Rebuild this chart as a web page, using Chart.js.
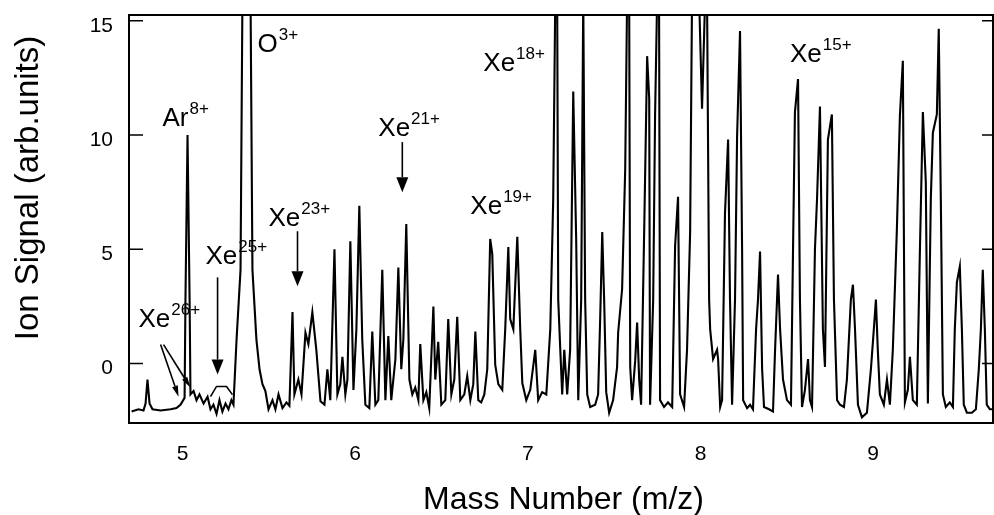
<!DOCTYPE html>
<html>
<head>
<meta charset="utf-8">
<script src="https://cdn.jsdelivr.net/npm/chart.js@4.4.1/dist/chart.umd.min.js"></script>
<style>
  html, body { margin: 0; padding: 0; background: #fff; }
</style>
</head>
<body>
<canvas id="spec" width="994" height="515"></canvas>
<script>
// trace of the spectrum (mass number, ion signal)
const massX = [
  4.705, 4.745, 4.774, 4.786, 4.797, 4.809, 4.826, 4.873, 4.931, 4.965, 4.988,
  5.012, 5.017, 5.029, 5.041, 5.046, 5.064, 5.081, 5.098, 5.122, 5.145,
  5.162, 5.179, 5.197, 5.214, 5.231, 5.249, 5.266, 5.283, 5.295, 5.313,
  5.336, 5.347, 5.394, 5.405, 5.428, 5.446, 5.463, 5.480, 5.498, 5.521,
  5.538, 5.556, 5.579, 5.602, 5.619, 5.637, 5.648, 5.671, 5.689, 5.712,
  5.729, 5.752, 5.775, 5.799, 5.822, 5.839, 5.856, 5.880, 5.897, 5.914,
  5.926, 5.943, 5.955, 5.972, 5.990, 6.007, 6.024, 6.041, 6.059, 6.082,
  6.099, 6.117, 6.134, 6.157, 6.175, 6.192, 6.209, 6.233, 6.250, 6.267,
  6.279, 6.296, 6.314, 6.331, 6.348, 6.366, 6.377, 6.395, 6.412, 6.429,
  6.453, 6.464, 6.481, 6.499, 6.522, 6.539, 6.557, 6.574, 6.591, 6.609,
  6.632, 6.649, 6.667, 6.684, 6.696, 6.713, 6.730, 6.748, 6.765, 6.782,
  6.794, 6.811, 6.829, 6.852, 6.869, 6.887, 6.898, 6.916, 6.939, 6.956,
  6.968, 6.991, 7.014, 7.043, 7.060, 7.083, 7.107, 7.130, 7.147, 7.159,
  7.170, 7.176, 7.188, 7.199, 7.211, 7.228, 7.245, 7.263, 7.280, 7.292,
  7.309, 7.321, 7.332, 7.344, 7.361, 7.390, 7.407, 7.419, 7.431, 7.442,
  7.454, 7.471, 7.494, 7.517, 7.523, 7.546, 7.564, 7.575, 7.587, 7.593,
  7.604, 7.622, 7.633, 7.645, 7.656, 7.674, 7.691, 7.703, 7.708, 7.726,
  7.737, 7.749, 7.760, 7.766, 7.789, 7.812, 7.836, 7.853, 7.870, 7.882,
  7.905, 7.922, 7.940, 7.951, 7.992, 8.009, 8.027, 8.038, 8.050, 8.056,
  8.073, 8.096, 8.102, 8.114, 8.125, 8.142, 8.160, 8.171, 8.183, 8.200,
  8.212, 8.229, 8.241, 8.247, 8.270, 8.287, 8.304, 8.322, 8.333, 8.345,
  8.357, 8.368, 8.397, 8.420, 8.432, 8.449, 8.461, 8.478, 8.501, 8.524,
  8.536, 8.547, 8.565, 8.576, 8.588, 8.605, 8.623, 8.634, 8.646, 8.663,
  8.675, 8.692, 8.709, 8.721, 8.738, 8.761, 8.773, 8.791, 8.808, 8.831,
  8.848, 8.871, 8.883, 8.895, 8.912, 8.935, 8.964, 8.987, 9.004, 9.016,
  9.027, 9.039, 9.062, 9.080, 9.097, 9.114, 9.137, 9.155, 9.172, 9.184,
  9.201, 9.213, 9.230, 9.253, 9.271, 9.288, 9.305, 9.317, 9.334, 9.346,
  9.369, 9.380, 9.392, 9.404, 9.421, 9.444, 9.462, 9.473, 9.485, 9.502,
  9.514, 9.525, 9.543, 9.572, 9.595, 9.612, 9.624, 9.635, 9.647, 9.658,
  9.676, 9.699
];
const signalY = [
  -2.1, -2.0, -2.05, -1.75, -0.7, -1.75, -2.0, -2.05, -2.0, -1.95, -1.8,
  -1.5, 2.8, 10.0, 2.8, -1.35, -1.2, -1.6, -1.35, -1.75, -1.45,
  -2.0, -1.8, -2.2, -1.6, -2.1, -1.75, -2.0, -1.6, -1.8, 1.05,
  4.1, 16, 16, 4.1, 1.05, -0.25, -0.9, -1.2, -2.0, -1.6,
  -2.0, -1.35, -1.95, -1.7, -1.85, 2.25, -1.35, -0.7, -1.35, 1.35,
  0.85, 2.25, 0.6, -1.65, -1.8, -0.25, -1.6, 5.0, -1.35, -0.9,
  0.3, -1.35, -0.7, 5.35, -1.15, 1.5, 6.9, 1.05, -1.8, -1.95,
  1.4, -1.8, -1.6, 4.1, -1.6, 1.2, -1.6, 0.2, 4.2, -0.25,
  1.05, 6.1, -0.7, -1.35, -1.05, -1.6, 0.85, -1.6, -1.25, -1.95,
  2.5, -0.7, 0.95, -1.8, -1.6, 1.95, -1.35, -0.7, 2.05, -1.6,
  -1.35, -0.55, -1.6, -0.9, 1.4, -1.6, -1.7, -1.35, -0.25, 5.45,
  4.8, -0.05, -0.9, -1.15, 1.5, 5.1, 1.95, 1.5, 5.55, 1.5,
  -0.85, -1.6, -1.15, 0.6, -1.6, -1.25, -1.35, 1.5, 7.2, 16,
  16, 2.8, 0.6, -1.35, 0.6, -1.35, 0.6, 11.9, 5.45, -1.6,
  2.8, 16, 2.8, -1.35, -1.9, -1.8, -1.35, 1.95, 5.75, 2.8,
  -1.25, -2.15, -1.6, -0.15, 1.35, 3.25, 8.5, 16, 16, -0.15,
  -1.6, 0.15, 1.8, -0.7, -1.8, 5.85, 13.45, 11.6, -1.8, 2.8,
  10.85, 16, 16, -1.6, -1.9, -1.7, -1.9, 5.15, 7.3, -1.35,
  -1.9, 0.6, 5.75, 16, 16, 11.15, 16, 16, 2.8, 1.5,
  0.2, 0.6, 0.2, -1.9, -1.6, 6.6, 9.8, 2.8, -1.8, 2.8,
  9.95, 14.55, 5.0, -1.6, -1.95, -1.8, -2.0, 1.5, 2.8, 4.9,
  -0.25, -1.9, -2.0, -2.1, 0.6, 3.9, 1.5, -0.7, -1.6, -1.8,
  5.0, 11.0, 12.45, 2.8, -1.9, -1.15, 0.2, -1.6, -1.9, 5.0,
  7.2, 11.25, 1.5, -0.15, 9.8, 10.9, 2.8, -1.6, -1.8, -1.9,
  -0.7, 2.8, 3.45, 1.5, -1.8, -2.35, -2.15, -0.25, 1.5, 2.8,
  0.6, -1.35, -1.8, -0.7, -1.8, 0.6, 5.75, 10.85, 13.25, -1.7,
  -1.15, 0.3, -1.6, -1.8, 5.0, 11.0, 7.95, -1.75, 7.2, 10.1,
  10.9, 14.65, 7.2, -1.35, -1.9, -1.7, -1.9, 1.5, 3.55, 4.25,
  1.5, -1.8, -2.15, -2.15, -2.0, -0.25, 1.5, 4.1, 1.5, -1.8,
  -2.0, -2.0
];
const massTicks = [5, 6, 7, 8, 9];
const signalTicks = [0, 5, 10, 15];

// ion labels (text anchored at mass / signal, bottom-left)
const ions = ['Xe', 'Ar', 'Xe', 'O', 'Xe', 'Xe', 'Xe', 'Xe', 'Xe'];
const charges = ['26+', '8+', '25+', '3+', '23+', '21+', '19+', '18+', '15+'];
const labelMass = [4.745, 4.884, 5.133, 5.434, 5.498, 6.134, 6.667, 6.742, 8.518];
const labelSignal = [1.58, 10.39, 4.34, 13.64, 6.01, 9.96, 6.54, 12.81, 13.2];

// arrows pointing at peaks
const arrows = [
  {from: [6.273, 9.69], to: [6.273, 7.50], big: true},
  {from: [5.666, 5.79], to: [5.666, 3.38], big: true},
  {from: [5.203, 3.77], to: [5.203, -0.48], big: true},
  {from: [4.873, 0.83], to: [4.977, -1.45], big: false},
  {from: [4.890, 0.83], to: [5.046, -1.05], big: false}
];
const bracket = [[5.162, -1.45], [5.197, -1.0], [5.255, -1.0], [5.289, -1.36]];

const FONT = '"Liberation Sans", Arial, Helvetica, sans-serif';

function drawArrow(ctx, x1, y1, x2, y2, len, half) {
  const ang = Math.atan2(y2 - y1, x2 - x1);
  const bx = x2 - len * Math.cos(ang), by = y2 - len * Math.sin(ang);
  ctx.beginPath();
  ctx.moveTo(x1, y1);
  ctx.lineTo(bx, by);
  ctx.stroke();
  ctx.beginPath();
  ctx.moveTo(x2, y2);
  ctx.lineTo(bx + half * Math.sin(ang), by - half * Math.cos(ang));
  ctx.lineTo(bx - half * Math.sin(ang), by + half * Math.cos(ang));
  ctx.closePath();
  ctx.fill();
}

const decorations = {
  id: 'decorations',
  afterDraw(chart) {
    const ctx = chart.ctx;
    const a = chart.chartArea;
    const xs = chart.scales.x, ys = chart.scales.y;
    ctx.save();
    ctx.strokeStyle = '#000';
    ctx.fillStyle = '#000';

    // frame
    ctx.lineWidth = 2;
    ctx.strokeRect(a.left, a.top, a.right - a.left - 1, a.bottom - a.top);

    // inward tick marks left and right
    ctx.lineWidth = 1.5;
    signalTicks.forEach(v => {
      const py = ys.getPixelForValue(v);
      ctx.beginPath();
      ctx.moveTo(a.left, py);
      ctx.lineTo(a.left + 14, py);
      ctx.moveTo(a.right - 12, py);
      ctx.lineTo(a.right, py);
      ctx.stroke();
    });

    // arrows
    ctx.lineWidth = 1.6;
    arrows.forEach(ar => {
      drawArrow(ctx,
        xs.getPixelForValue(ar.from[0]), ys.getPixelForValue(ar.from[1]),
        xs.getPixelForValue(ar.to[0]), ys.getPixelForValue(ar.to[1]),
        ar.big ? 15 : 11, ar.big ? 6 : 3);
    });
    ctx.beginPath();
    bracket.forEach((p, i) => {
      const px = xs.getPixelForValue(p[0]), py = ys.getPixelForValue(p[1]);
      if (i === 0) ctx.moveTo(px, py); else ctx.lineTo(px, py);
    });
    ctx.stroke();

    // ion labels with superscript charge
    ctx.textAlign = 'left';
    ctx.textBaseline = 'alphabetic';
    ions.forEach((ion, i) => {
      const px = xs.getPixelForValue(labelMass[i]);
      const py = ys.getPixelForValue(labelSignal[i]);
      ctx.font = '26px ' + FONT;
      ctx.fillText(ion, px, py);
      const w = ctx.measureText(ion).width;
      ctx.font = '17px ' + FONT;
      ctx.fillText(charges[i], px + w + 1, py - 12);
    });

    // axis titles
    ctx.textAlign = 'center';
    ctx.textBaseline = 'middle';
    ctx.font = '32px ' + FONT;
    ctx.fillText('Mass Number (m/z)', (a.left + a.right) / 2 + 2, 500);
    ctx.translate(29, 188);
    ctx.rotate(-Math.PI / 2);
    ctx.font = '33px ' + FONT;
    ctx.fillText('Ion Signal (arb.units)', 0, 0);
    ctx.restore();
  }
};

new Chart(document.getElementById('spec'), {
  type: 'line',
  data: {
    datasets: [{
      data: massX.map((m, i) => ({x: m, y: signalY[i]})),
      borderColor: '#000',
      borderWidth: 2.1,
      pointRadius: 0,
      tension: 0,
      fill: false
    }]
  },
  options: {
    responsive: false,
    animation: false,
    devicePixelRatio: 1,
    layout: {padding: {top: 15, right: 0, left: 0, bottom: 0}},
    plugins: {legend: {display: false}, tooltip: {enabled: false}},
    scales: {
      x: {
        type: 'linear',
        min: 4.69,
        max: 9.70,
        afterBuildTicks: s => { s.ticks = massTicks.map(v => ({value: v})); },
        afterFit: s => { s.height = 92; s.paddingLeft = 0; s.paddingRight = 0; },
        grid: {display: false, drawTicks: false},
        border: {display: false},
        ticks: {color: '#000', padding: 19, maxRotation: 0, autoSkip: false,
                font: {family: FONT, size: 21}}
      },
      y: {
        min: -2.6,
        max: 15.25,
        afterBuildTicks: s => { s.ticks = signalTicks.map(v => ({value: v})); },
        afterFit: s => { s.width = 129; s.paddingTop = 0; s.paddingBottom = 0; },
        grid: {display: false, drawTicks: false},
        border: {display: false},
        ticks: {color: '#000', padding: 16, labelOffset: 5,
                font: {family: FONT, size: 21}}
      }
    }
  },
  plugins: [decorations]
});
</script>
</body>
</html>
